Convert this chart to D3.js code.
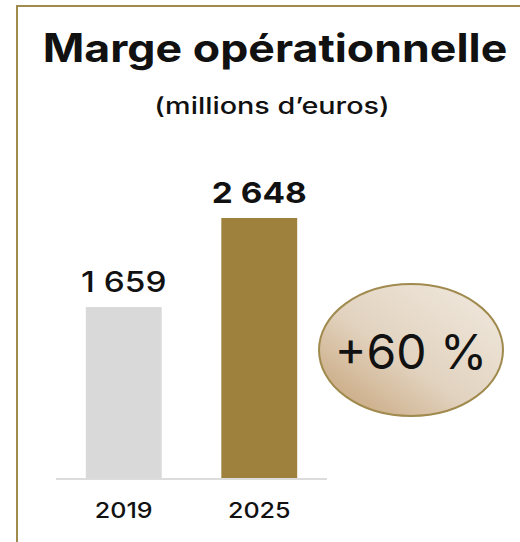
<!DOCTYPE html>
<html>
<head>
<meta charset="utf-8">
<script src="https://cdn.jsdelivr.net/npm/d3@7"></script>
<style>
  body { margin: 0; background: #fff; }
  text { font-family: Inter, "Noto Sans", sans-serif; fill: #111; }
</style>
</head>
<body>
<svg id="chart" width="520" height="542"></svg>
<script>
const years = ["2019", "2025"];
const values = [1659, 2648];
const barColors = ["#d9d9d9", "#9e813d"];
const growthLabel = "+60 %";

const svg = d3.select("#chart");
const fr = d3.formatLocale({ decimal: ",", thousands: "\u00a0", grouping: [3], currency: ["", " €"] });
const fmt = fr.format(",d");

// the original font is wider than Inter, stretch text a bit
function widen(sel, k) {
  sel.each(function() {
    const w = this.getComputedTextLength();
    d3.select(this).attr("textLength", w * k).attr("lengthAdjust", "spacingAndGlyphs");
  });
}

// frame: gold line on the top and left
svg.append("path")
  .attr("d", "M17,542 V6 H520")
  .attr("fill", "none")
  .attr("stroke", "#a08a4e")
  .attr("stroke-width", 2);

svg.append("text")
  .attr("x", 275)
  .attr("y", 62)
  .attr("text-anchor", "middle")
  .attr("font-size", 39)
  .attr("font-weight", 700)
  .text("Marge opérationnelle")
  .call(widen, 1.145);

svg.append("text")
  .attr("x", 272)
  .attr("y", 114)
  .attr("text-anchor", "middle")
  .attr("font-size", 23)
  .attr("font-weight", 500)
  .text("(millions d\u2019euros)")
  .call(widen, 1.25);

const x = d3.scaleBand()
  .domain(years)
  .range([56, 327])
  .paddingInner(0.44)
  .paddingOuter(0.22);

const y = d3.scaleLinear()
  .domain([-240, 2648])
  .range([478, 218]);

svg.selectAll(".bar")
  .data(values)
  .enter()
  .append("rect")
  .attr("class", "bar")
  .attr("x", (d, i) => x(years[i]))
  .attr("y", d => y(d))
  .attr("width", x.bandwidth())
  .attr("height", d => y(-240) - y(d))
  .attr("fill", (d, i) => barColors[i]);

// baseline
svg.append("line")
  .attr("x1", 56)
  .attr("x2", 327)
  .attr("y1", 479)
  .attr("y2", 479)
  .attr("stroke", "#dcdcdc")
  .attr("stroke-width", 2);

svg.selectAll(".val")
  .data(values)
  .enter()
  .append("text")
  .attr("class", "val")
  .attr("x", (d, i) => x(years[i]) + x.bandwidth() / 2)
  .attr("y", d => y(d) - 15)
  .attr("text-anchor", "middle")
  .attr("font-size", 29)
  .attr("font-weight", (d, i) => i === 1 ? 700 : 500)
  .text(d => fmt(d))
  .call(widen, 1.15);

svg.selectAll(".year")
  .data(years)
  .enter()
  .append("text")
  .attr("class", "year")
  .attr("x", d => x(d) + x.bandwidth() / 2)
  .attr("y", 518)
  .attr("text-anchor", "middle")
  .attr("font-size", 22)
  .attr("font-weight", 500)
  .text(d => d)
  .call(widen, 1.14);

// growth bubble
const grad = svg.append("defs").append("linearGradient")
  .attr("id", "bubble")
  .attr("x1", "0%").attr("y1", "100%")
  .attr("x2", "100%").attr("y2", "0%");
grad.append("stop").attr("offset", "0%").attr("stop-color", "#c49f72");
grad.append("stop").attr("offset", "45%").attr("stop-color", "#e2d3c0");
grad.append("stop").attr("offset", "100%").attr("stop-color", "#f1eae0");

svg.append("ellipse")
  .attr("cx", 411)
  .attr("cy", 350)
  .attr("rx", 92)
  .attr("ry", 66)
  .attr("fill", "url(#bubble)")
  .attr("stroke", "#a08a4e")
  .attr("stroke-width", 2);

svg.append("text")
  .attr("x", 411)
  .attr("y", 369)
  .attr("text-anchor", "middle")
  .attr("font-size", 48)
  .attr("font-weight", 400)
  .text(growthLabel);
</script>
</body>
</html>
